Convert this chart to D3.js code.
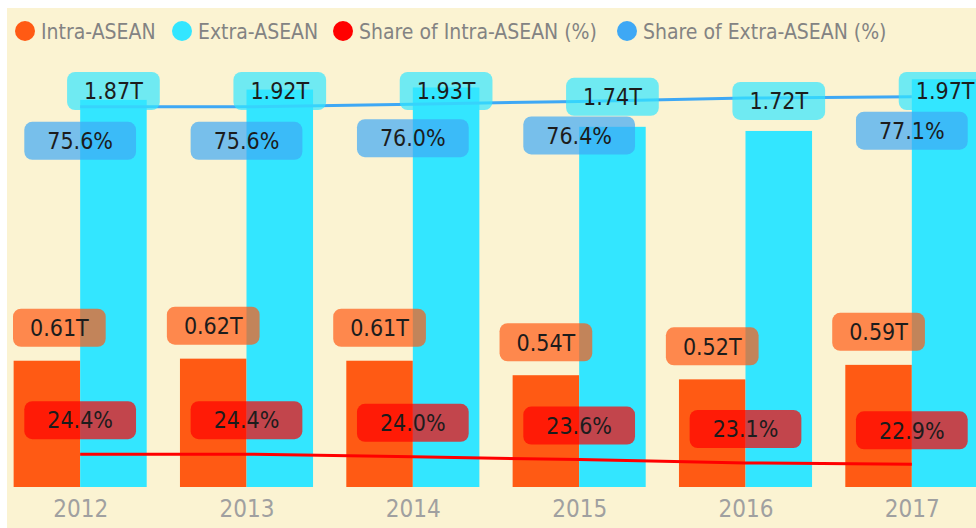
<!DOCTYPE html>
<html>
<head>
<meta charset="utf-8">
<style>
  body { margin: 0; background: #fff; }
  svg { display: block; }
  .legend text { font-family: "DejaVu Sans Condensed", sans-serif; font-size: 21px; fill: #838383; }
  .year { font-family: "DejaVu Sans Condensed", sans-serif; font-size: 24px; fill: #a0a0a0; }
  .lbl { font-family: "DejaVu Sans Condensed", sans-serif; font-size: 23px; fill: #1c1c1c; }
</style>
</head>
<body>
<script src="https://d3js.org/d3.v7.min.js"></script>
<script>

var width = 976,
    height = 528;

// data
var years = ["2012", "2013", "2014", "2015", "2016", "2017"];
var intraAsean = [0.61, 0.62, 0.61, 0.54, 0.52, 0.59];   // trillions
var extraAsean = [1.87, 1.92, 1.93, 1.74, 1.72, 1.97];   // trillions
var intraShare = [24.4, 24.4, 24.0, 23.6, 23.1, 22.9];   // %
var extraShare = [75.6, 75.6, 76.0, 76.4, 76.9, 77.1];   // %
var hiddenShareLabels = ["2016"];   // label dropped in the original (overlap)

var seriesNames = ["Intra-ASEAN", "Extra-ASEAN", "Share of Intra-ASEAN (%)", "Share of Extra-ASEAN (%)"];
var colors = ["#ff5a14", "#33e6ff", "#ff0000", "#3ea8f5"];

var svg = d3.select("body").append("svg")
    .attr("width", width)
    .attr("height", height);

// cream panel
svg.append("rect")
    .attr("x", 7).attr("y", 8)
    .attr("width", width - 7).attr("height", height - 8)
    .attr("fill", "#fbf3d2");

// legend
var legendX = [25, 182, 343, 627];
var legend = svg.append("g").attr("class", "legend");
var item = legend.selectAll("g")
    .data(seriesNames)
    .enter().append("g")
    .attr("transform", function(d, i) { return "translate(" + legendX[i] + ",31)"; });
item.append("circle").attr("r", 10).attr("fill", function(d, i) { return colors[i]; });
item.append("text").attr("x", 16).attr("dy", "0.36em").text(function(d) { return d; });

// scales
var x = d3.scaleBand().domain(years).range([-3, 995]).paddingInner(0.2).paddingOuter(0.1);
var x1 = d3.scaleBand().domain([0, 1]).range([0, x.bandwidth()]);
var y = d3.scaleLinear().domain([0, 2]).range([487, 73]);
var y2 = d3.scaleLinear().domain([20, 80]).range([484, 77]);

function mid(yr) { return x(yr) + x.bandwidth() / 2; }

// year axis
var xAxis = d3.axisBottom(d3.scalePoint().domain(years).range([mid(years[0]), mid(years[5])]))
    .tickSize(0).tickPadding(0);
var ax = svg.append("g").attr("transform", "translate(0,500)").call(xAxis);
ax.select(".domain").remove();
ax.selectAll("text").attr("class", "year").attr("dy", "0.71em");

// bars
var bars = svg.append("g");
[intraAsean, extraAsean].forEach(function(vals, s) {
  bars.selectAll(".bar" + s)
    .data(years)
    .enter().append("rect")
    .attr("class", "bar" + s)
    .attr("x", function(d) { return x(d) + x1(s); })
    .attr("width", x1.bandwidth())
    .attr("y", function(d, i) { return y(vals[i]); })
    .attr("height", function(d, i) { return y(0) - y(vals[i]); })
    .attr("fill", colors[s]);
});

// share lines
[intraShare, extraShare].forEach(function(vals, s) {
  var line = d3.line()
      .x(function(d) { return mid(d); })
      .y(function(d, i) { return y2(vals[i]); });
  svg.append("path")
    .datum(years)
    .attr("d", line)
    .attr("fill", "none")
    .attr("stroke", colors[s + 2])
    .attr("stroke-width", 3);
});

// data labels
var labels = svg.append("g");

function addLabel(cx, cy, txt, color, pad, minLeft) {
  var g = labels.append("g");
  var box = g.append("rect");
  var t = g.append("text").attr("class", "lbl")
      .attr("text-anchor", "middle").attr("dy", "0.36em").text(txt);
  var w = t.node().getComputedTextLength() + pad * 2;
  if (minLeft !== undefined && cx - w / 2 < minLeft) cx = minLeft + w / 2;
  t.attr("x", cx).attr("y", cy);
  box.attr("x", cx - w / 2).attr("y", cy - 19)
     .attr("width", w).attr("height", 38)
     .attr("rx", 8)
     .attr("fill", color).attr("fill-opacity", 0.7);
}

years.forEach(function(yr, i) {
  // Extra-ASEAN value (kept inside the plot top)
  addLabel(x(yr) + x1(1) + x1.bandwidth() / 2, Math.max(y(extraAsean[i]) - 30, 91),
           extraAsean[i].toFixed(2) + "T", colors[1], 17);
  // Extra share
  if (hiddenShareLabels.indexOf(yr) < 0)
    addLabel(mid(yr), y2(extraShare[i]) + 34, extraShare[i].toFixed(1) + "%", colors[3], 23);
  // Intra-ASEAN value
  addLabel(x(yr) + x1.bandwidth() / 2, y(intraAsean[i]) - 33,
           intraAsean[i].toFixed(2) + "T", colors[0], 17, 13);
  // Intra share
  addLabel(mid(yr), y2(intraShare[i]) - 34, intraShare[i].toFixed(1) + "%", colors[2], 23);
});

</script>
</body>
</html>
